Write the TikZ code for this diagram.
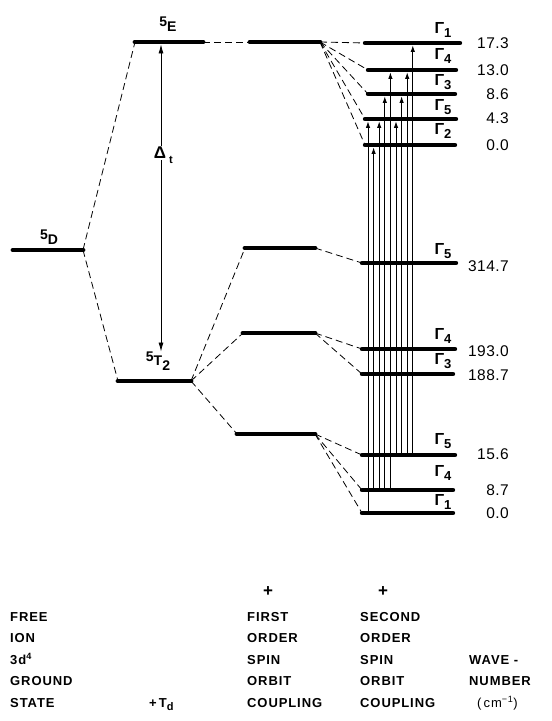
\documentclass[tikz,border=0pt]{standalone}
\usepackage{fontspec}
\setmainfont{Liberation Sans}[LetterSpace=7]
\newfontfamily\numfont{Liberation Sans}[LetterSpace=3]
\usetikzlibrary{arrows.meta, positioning}

\newcommand\gm[1]{Γ\raisebox{-0.55ex}{\fontsize{13}{13}\selectfont #1}}
\newcommand\trm[2]{\raisebox{.6ex}{#1}#2}

\tikzset{
  lev/.style={line width=4.8pt, line cap=round},
  levtwo/.style={line width=4.4pt, line cap=round},
  split/.style={dash pattern=on 7pt off 4pt, line width=0.8pt},
  trans/.style={line width=0.9pt, shorten >=2.3pt, -{Latex[length=6.5pt, width=4.4pt]}},
  gaparrow/.style={line width=0.8pt, shorten <=2.4pt, {Latex[length=9pt, width=5pt]}-{Latex[length=9pt, width=5pt]}},
  gam/.style={font=\fontsize{16}{16}\selectfont\bfseries, inner sep=0pt},
  wn/.style={font=\numfont\fontsize{15.5}{16}\selectfont, inner sep=0pt, anchor=east},
  term/.style={font=\fontsize{14}{14}\selectfont\bfseries, inner sep=0pt},
  captxt/.style={font=\fontsize{13}{13}\selectfont\bfseries, anchor=base west, inner sep=0pt},
}

\begin{document}
\begin{tikzpicture}[x=1pt, y=-1pt]
\useasboundingbox (0,0) rectangle (552,721);

% ion, crystal field and first order levels
\foreach \n/\xa/\xb/\y in {D/13/83/250, E/135/203/42, T/118/191/381,
    fE/250/320/42, fA/245/315/248, fB/243/315/333, fC/237/315/434}
{
  \coordinate (\n l) at (\xa,\y);
  \coordinate (\n r) at (\xb,\y);
  \draw[lev] (\n l) -- (\n r);
}

% second order levels with their labels
\foreach \n/\xa/\xb/\y/\g/\gy/\w/\wy in {
    aone/365/460/43/1/30/17.3/43, atwo/368/456/70/4/56/13.0/70,
    athree/368/455/94/3/82/8.6/94, afour/365/456/119/5/107/4.3/118,
    afive/365/455/145/2/131/0.0/145,
    bone/362/456/263/5/251/314.7/266, btwo/362/455/349/4/336/193.0/351,
    bthree/362/453/374/3/361/188.7/375,
    cone/362/455/455/5/441/15.6/454, ctwo/362/453/490/4/473/8.7/490,
    cthree/362/453/513/1/502/0.0/513}
{
  \coordinate (\n l) at (\xa,\y);
  \coordinate (\n r) at (\xb,\y);
  \draw[levtwo] (\n l) -- (\n r);
  \node[gam] (\n g) at (443,\gy) {\gm{\g}};
  \node[wn] (\n w) at (509,\wy) {\w};
}

% splittings
\draw[split] (Dr) -- (El);
\draw[split] (Dr) -- (Tl);
\draw[split] (Er) -- (fEl);
\foreach \n in {aone, atwo, athree, afour, afive}
  \draw[split] (fEr) -- (\n l);
\foreach \n in {fA, fB, fC}
  \draw[split] (Tr) -- (\n l);
\draw[split] (fAr) -- (bonel);
\foreach \n in {btwo, bthree}
  \draw[split] (fBr) -- (\n l);
\foreach \n in {cone, ctwo, cthree}
  \draw[split] (fCr) -- (\n l);

% transitions
\foreach \i/\lo/\hi in {0/cthree/afour, 1/ctwo/afive, 2/ctwo/afour,
    3/ctwo/athree, 4/ctwo/atwo, 5/cone/afour, 6/cone/athree,
    7/cone/atwo, 8/cone/aone}
{
  \coordinate (col\i) at ({368+5.6*\i},0);
  \draw[trans] (col\i |- \lo l) -- (col\i |- \hi l);
}

% term labels and crystal field gap
\node[term] (Dlab) at (49,237) {\trm{5}{D}};
\node[term] (Elab) at (168,24) {\trm{5}{E}};
\node[term] (Tlab) at (158,361) {\trm{5}{T\raisebox{-.6ex}{2}}};
\coordinate (gapx) at (161,0);
\draw[gaparrow] (gapx |- El) -- (gapx |- Tlab.north);
\node[font=\fontsize{17}{17}\selectfont\bfseries, fill=white, inner sep=1.5pt] (gap) at (160,153) {Δ};
\node[font=\fontsize{11}{11}\selectfont\bfseries, anchor=north west,
      inner sep=0pt] (gapt) at ([xshift=1pt, yshift=-3pt]gap.east) {t};

% column captions
\foreach \t [count=\k] in {FREE, ION, 3d\textsuperscript{4}, GROUND, STATE}
  \node[captxt] at (10,{599.5+21.5*\k}) {\t};
\node[captxt] (td) at (149,707) {+\,T\raisebox{-.5ex}{\fontsize{11}{11}\selectfont d}};
\foreach \t [count=\k] in {FIRST, ORDER, SPIN, ORBIT, COUPLING}
  \node[captxt] at (247,{599.5+21.5*\k}) {\t};
\foreach \t [count=\k] in {SECOND, ORDER, SPIN, ORBIT, COUPLING}
  \node[captxt] at (360,{599.5+21.5*\k}) {\t};
\node[font=\fontsize{17}{17}\selectfont\bfseries, inner sep=0pt] (plusone) at (268,592) {+};
\node[font=\fontsize{17}{17}\selectfont\bfseries, inner sep=0pt] (plustwo) at (383,592) {+};
\node[captxt] (wave) at (469,664) {WAVE -};
\node[captxt] (number) at (469,685.5) {NUMBER};
\node[captxt, font=\fontsize{13}{13}\selectfont] (unit) at (477,707) {(\,cm\textsuperscript{−1})};
\end{tikzpicture}
\end{document}
